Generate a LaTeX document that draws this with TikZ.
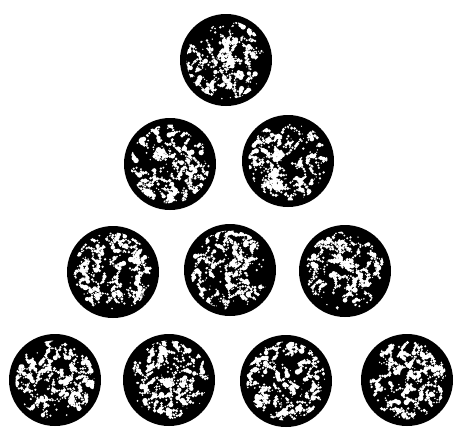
\documentclass[tikz,border=0pt]{standalone}
\begin{document}
\tikzset{
  disc/.style={circle, fill=black, minimum size=92pt, inner sep=0pt},
  speck/.style={fill=white}
}
\begin{tikzpicture}[x=1pt,y=-1pt]
\useasboundingbox[fill=white] (0,0) rectangle (458,432);
\pgfmathsetseed{11}
\foreach \n/\x/\y in {1/226/60, 2/170/164, 3/288/161, 4/113/272, 5/230/270, 6/345/271, 7/55/380, 8/169/380, 9/286/381, 10/407/380} {
  \node[disc] (c\n) at (\x,\y) {};
  \begin{scope}
    \clip (c\n.center) circle (39.5pt);
    \foreach \k in {1,...,75} {
      \pgfmathsetmacro{\ang}{rnd*360}
      \pgfmathsetmacro{\rad}{39*sqrt(rnd)}
      \pgfmathsetmacro{\sa}{1.0+rnd*1.8}
      \pgfmathsetmacro{\sb}{0.8+rnd*1.6}
      \pgfmathsetmacro{\sc}{0.7+rnd*1.4}
      \pgfmathsetmacro{\sd}{0.6+rnd*1.2}
      \pgfmathsetmacro{\se}{0.5+rnd*1.0}
      \pgfmathsetmacro{\aa}{rnd*360}
      \pgfmathsetmacro{\ab}{\aa+rnd*120-60}
      \pgfmathsetmacro{\ac}{\ab+rnd*120-60}
      \pgfmathsetmacro{\ad}{\ac+rnd*120-60}
      \fill[speck] (c\n.center) ++(\ang:\rad pt) circle (\sa pt)
        ++(\aa:3pt) circle (\sb pt)
        ++(\ab:2.8pt) circle (\sc pt)
        ++(\ac:2.6pt) circle (\sd pt)
        ++(\ad:2.4pt) circle (\se pt);
    }
    \foreach \k in {1,...,60} {
      \pgfmathsetmacro{\ang}{rnd*360}
      \pgfmathsetmacro{\rad}{39*sqrt(rnd)}
      \pgfmathsetmacro{\sa}{0.5+rnd*0.9}
      \fill[speck] (c\n.center) ++(\ang:\rad pt) circle (\sa pt);
    }
  \end{scope}
}
\end{tikzpicture}
\end{document}
